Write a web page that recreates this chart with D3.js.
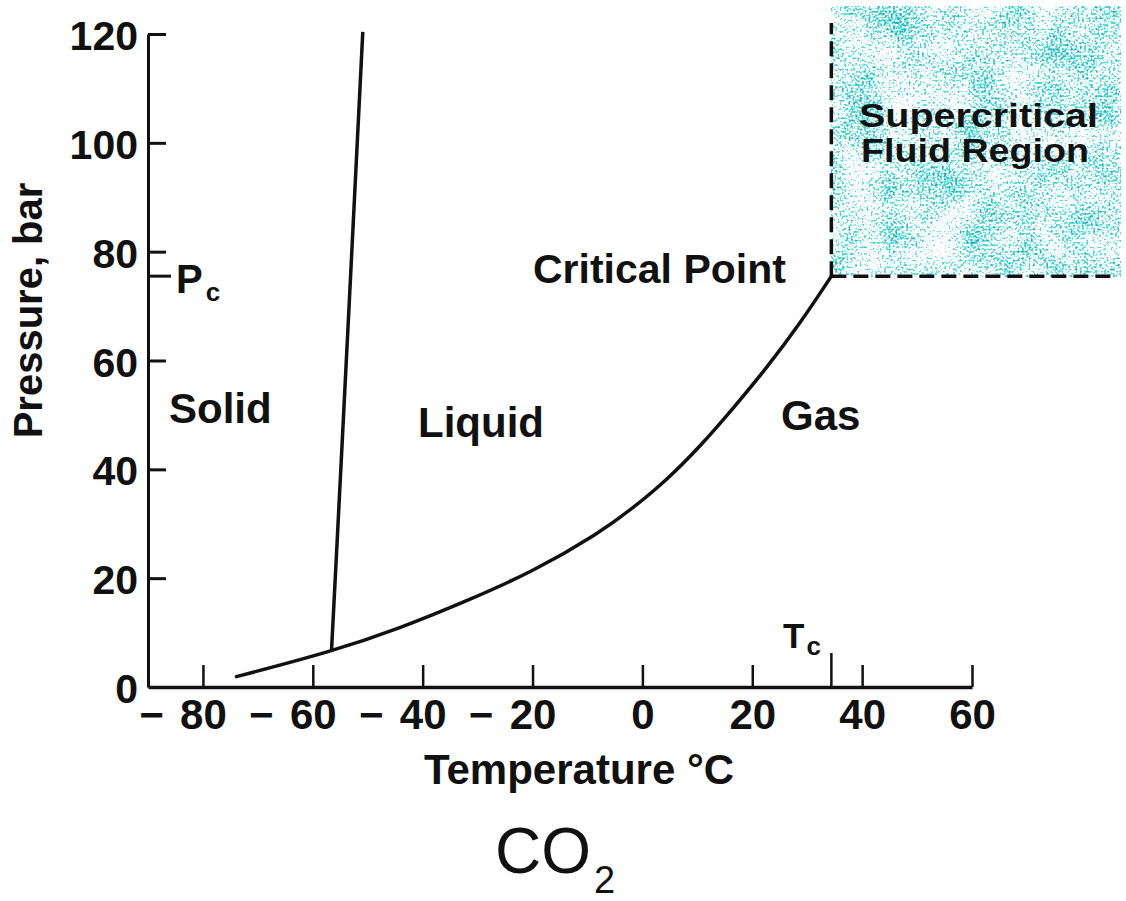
<!DOCTYPE html>
<html>
<head>
<meta charset="utf-8">
<script src="https://cdn.jsdelivr.net/npm/d3@7"></script>
<style>
  html, body { margin: 0; padding: 0; background: #fff; }
  svg { display: block; }
  text { font-family: "Liberation Sans", Arial, Helvetica, sans-serif; fill: #111; }
</style>
</head>
<body>
<svg id="chart" width="1126" height="901"></svg>
<script>
// Axis ticks
const tempTicks = [-80, -60, -40, -20, 0, 20, 40, 60];
const pressTicks = [0, 20, 40, 60, 80, 100, 120];

// Sublimation / vaporization boundary (temperature °C, pressure bar)
const vaporT = [-73.9, -56.6, -44.1, -32.0, -19.9, -7.7, -1.7, 4.4, 10.5, 16.5, 22.6, 28.7, 34.4];
const vaporP = [1.9, 6.5, 10.8, 15.8, 21.2, 28.4, 32.9, 38.0, 44.2, 51.2, 58.6, 66.8, 75.5];

// Melting boundary
const meltT = [-56.6, -54.9, -52.9, -50.9];
const meltP = [6.5, 40, 80, 120.4];

// Critical point
const Tc = 34.4;
const Pc = 75.5;

// Extent of the supercritical fluid shading and its dashed border
const scfTempMax = 87;
const scfPressMax = 125;
const scfBorderTempMax = 86;
const scfBorderPressMax = 122;

// Phase region labels
const regionNames = ["Solid", "Liquid", "Gas", "Critical Point"];

const svg = d3.select("#chart");
const FONT = "\"Liberation Sans\", Arial, Helvetica, sans-serif";

const x = d3.scaleLinear().domain([-90, 60]).range([148, 972]);
const y = d3.scaleLinear().domain([0, 120]).range([687, 34]);

// Speckled cyan texture for the supercritical region
const defs = svg.append("defs");
const f = defs.append("filter")
  .attr("id", "speckle")
  .attr("x", 0).attr("y", 0).attr("width", 1).attr("height", 1)
  .attr("color-interpolation-filters", "sRGB");
f.append("feTurbulence").attr("type", "fractalNoise").attr("baseFrequency", 0.45)
  .attr("numOctaves", 1).attr("seed", 5).attr("result", "fineRaw");
f.append("feColorMatrix").attr("in", "fineRaw").attr("type", "matrix")
  .attr("values", "1 0 0 0 0  0 1 0 0 0  0 0 1 0 0  0 0 0 0 1").attr("result", "fine");
f.append("feTurbulence").attr("type", "fractalNoise").attr("baseFrequency", 0.025)
  .attr("numOctaves", 2).attr("seed", 12).attr("result", "coarseRaw");
f.append("feColorMatrix").attr("in", "coarseRaw").attr("type", "matrix")
  .attr("values", "1 0 0 0 0  0 1 0 0 0  0 0 1 0 0  0 0 0 0 1").attr("result", "coarse");
f.append("feComposite").attr("in", "fine").attr("in2", "coarse").attr("operator", "arithmetic")
  .attr("k1", 0).attr("k2", 0.72).attr("k3", 0.28).attr("k4", 0).attr("result", "mix");
f.append("feColorMatrix").attr("in", "mix").attr("type", "matrix")
  .attr("values", "0 0 0 0 0  0 0 0 0 0  0 0 0 0 0  1 0 0 0 0").attr("result", "lum");
const ct1 = f.append("feComponentTransfer").attr("in", "lum").attr("result", "mask1");
ct1.append("feFuncA").attr("type", "linear").attr("slope", 14).attr("intercept", -7.2);
const ct2 = f.append("feComponentTransfer").attr("in", "lum").attr("result", "mask2");
ct2.append("feFuncA").attr("type", "linear").attr("slope", 20).attr("intercept", -12.8);
f.append("feFlood").attr("flood-color", "#4fdfe0").attr("result", "c1");
f.append("feComposite").attr("in", "c1").attr("in2", "mask1").attr("operator", "in").attr("result", "layer1");
f.append("feFlood").attr("flood-color", "#3aa6b0").attr("result", "c2");
f.append("feComposite").attr("in", "c2").attr("in2", "mask2").attr("operator", "in").attr("result", "layer2");
const merge = f.append("feMerge");
merge.append("feMergeNode").attr("in", "layer1");
merge.append("feMergeNode").attr("in", "layer2");

svg.append("rect")
  .attr("x", x(Tc))
  .attr("y", y(scfPressMax))
  .attr("width", x(scfTempMax) - x(Tc))
  .attr("height", y(Pc) - y(scfPressMax))
  .attr("fill", "#fff")
  .attr("filter", "url(#speckle)");

// Dashed border of the supercritical region
const dash = svg.append("g").attr("stroke", "#111").attr("stroke-width", 3.5)
  .attr("stroke-dasharray", "15 7").attr("fill", "none");
dash.append("line")
  .attr("x1", x(Tc)).attr("x2", x(Tc))
  .attr("y1", y(Pc)).attr("y2", y(scfBorderPressMax));
dash.append("line")
  .attr("x1", x(Tc)).attr("x2", x(scfBorderTempMax))
  .attr("y1", y(Pc)).attr("y2", y(Pc));

// Y axis, ticks pointing into the plot
const yAxis = d3.axisLeft(y).tickValues(pressTicks).tickSizeInner(-18).tickSizeOuter(0).tickPadding(10);
const gy = svg.append("g").attr("transform", `translate(${x(-90)},0)`).call(yAxis);
gy.select(".domain").attr("stroke", "#111").attr("stroke-width", 3);
gy.selectAll(".tick line").attr("stroke", "#111").attr("stroke-width", 3);
gy.selectAll(".tick text")
  .attr("font-family", FONT).attr("font-size", 41).attr("font-weight", 700)
  .attr("fill", "#111").attr("dy", "0.38em");
gy.selectAll(".tick").filter(d => d === 0).select("line").remove();

// X axis, ticks pointing into the plot
const xAxis = d3.axisBottom(x).tickValues(tempTicks).tickSizeInner(-22).tickSizeOuter(0).tickPadding(12)
  .tickFormat(d => String(Math.abs(d)));
const gx = svg.append("g").attr("transform", `translate(0,${y(0)})`).call(xAxis);
gx.select(".domain").attr("stroke", "#111").attr("stroke-width", 3.5);
gx.selectAll(".tick line").attr("stroke", "#111").attr("stroke-width", 2.5);
gx.selectAll(".tick text")
  .attr("font-family", FONT).attr("font-size", 42).attr("font-weight", 700)
  .attr("fill", "#111").attr("dy", "0.72em");
// detached minus signs in front of negative labels
gx.selectAll(".tick").filter(d => d < 0).append("text")
  .attr("x", -52).attr("y", 12).attr("dy", "0.72em")
  .attr("text-anchor", "middle")
  .attr("font-family", FONT).attr("font-size", 42).attr("font-weight", 700)
  .attr("fill", "#111")
  .text("\u2212");

// Tc and Pc marks
svg.append("line")
  .attr("x1", x(Tc)).attr("x2", x(Tc))
  .attr("y1", y(0)).attr("y2", y(0) - 34)
  .attr("stroke", "#111").attr("stroke-width", 2.5);
svg.append("line")
  .attr("x1", x(-90)).attr("x2", x(-90) + 23)
  .attr("y1", y(Pc)).attr("y2", y(Pc))
  .attr("stroke", "#111").attr("stroke-width", 3);

// Phase boundaries
const vapor = vaporT.map((t, i) => [t, vaporP[i]]);
const melt = meltT.map((t, i) => [t, meltP[i]]);
const smooth = d3.line().x(d => x(d[0])).y(d => y(d[1])).curve(d3.curveBasis);
const straight = d3.line().x(d => x(d[0])).y(d => y(d[1])).curve(d3.curveCatmullRom.alpha(0.5));
svg.append("path").datum(vapor).attr("d", smooth)
  .attr("fill", "none").attr("stroke", "#111").attr("stroke-width", 3.5).attr("stroke-linecap", "round");
svg.append("path").datum(melt).attr("d", straight)
  .attr("fill", "none").attr("stroke", "#111").attr("stroke-width", 3.5);

// Labels
function label(txt, px, py, size, opts = {}) {
  return svg.append("text")
    .attr("x", px).attr("y", py)
    .attr("font-family", FONT)
    .attr("font-size", size)
    .attr("font-weight", opts.weight || 700)
    .attr("text-anchor", opts.anchor || "start")
    .attr("fill", "#111")
    .text(txt);
}
label(regionNames[0], 169, 423, 42);
label(regionNames[1], 418, 437, 42);
label(regionNames[2], 781, 430, 42);
label(regionNames[3], 533, 283, 41);

const pcLabel = label("P", 176, 293, 40);
pcLabel.append("tspan").attr("font-size", 26).attr("dx", 3).attr("dy", 8).text("c");
const tcLabel = label("T", 783, 648, 35);
tcLabel.append("tspan").attr("font-size", 26).attr("dx", 2).attr("dy", 7).text("c");

label("Supercritical", 859, 127, 33).attr("textLength", 239).attr("lengthAdjust", "spacingAndGlyphs");
label("Fluid Region", 861, 162, 33).attr("textLength", 228).attr("lengthAdjust", "spacingAndGlyphs");

// Axis titles
svg.append("text")
  .attr("transform", `translate(42,${(y(0) + y(120)) / 2 - 50}) rotate(-90)`)
  .attr("text-anchor", "middle")
  .attr("font-family", FONT).attr("font-size", 40).attr("font-weight", 700)
  .attr("fill", "#111")
  .text("Pressure, bar");
svg.append("text")
  .attr("x", 579).attr("y", 784)
  .attr("text-anchor", "middle")
  .attr("font-family", FONT).attr("font-size", 42).attr("font-weight", 700)
  .attr("fill", "#111")
  .text("Temperature \u00B0C");

// Substance caption
const cap = svg.append("text")
  .attr("x", 495).attr("y", 873)
  .attr("font-family", FONT).attr("font-size", 64).attr("font-weight", 400)
  .attr("fill", "#000")
  .text("CO");
cap.append("tspan").attr("font-size", 38).attr("dx", 3).attr("dy", 20).text("2");
</script>
</body>
</html>
